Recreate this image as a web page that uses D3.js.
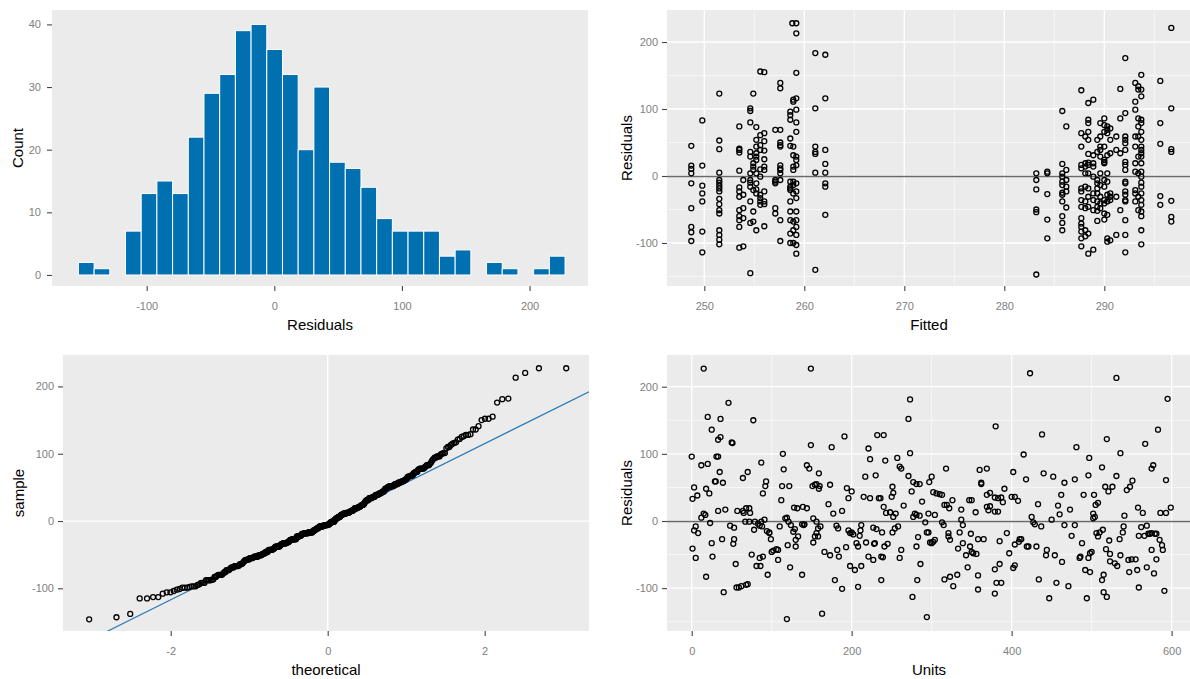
<!DOCTYPE html>
<html>
<head>
<meta charset="utf-8">
<script src="https://cdn.jsdelivr.net/npm/d3@7"></script>
<style>
  body { margin: 0; background: #fff; }
  text { font-family: "Liberation Sans", Arial, sans-serif; }
</style>
</head>
<body>
<svg id="chart" width="1190" height="679"></svg>
<script>
// ---- data ----

// histogram of residuals
var histStart = -153.5;
var histBinWidth = 12.3;
var histCounts = [2, 1, 0, 7, 13, 15, 13, 22, 29, 32, 39, 40, 36, 32, 20, 30, 18, 17, 14, 9, 7, 7, 7, 3, 4, 0, 2, 1, 0, 1, 3];
var histXTicks = [-100, 0, 100, 200];
var histYTicks = [0, 10, 20, 30, 40];

// fitted vs residuals: [fitted value, residuals in that column]
var fittedColumns = [
  [248.7, [45, 15.5, 10.5, 4, -11, -48, -76, -84, -97]],
  [249.8, [83, 15.5, -14.5, -26, -38, -83, -114]],
  [251.5, [123, 53, 40, 5, -6, -10, -14.5, -18.5, -23, -34, -42, -51, -56, -81, -88, -95, -102]],
  [253.5, [74, 41, 39, 35, 8, -17, -23, -31, -51, -60, -66, -76, -107]],
  [253.9, [-6, -28, -48, -63, -105]],
  [254.6, [101, 97, 80, 36, 29, 4, -6, -10, -16, -38, -70, -145]],
  [254.9, [123, 19, 14, 9, -21, -53, -68]],
  [255.2, [73, 54, 44, 34, 29, 24, 4, -11, -20, -26, -81]],
  [255.6, [156, 61, 46, 39, 10, -1, -28, -33, -38, -43]],
  [256.0, [155, 64, 52, 38, 25, 14, 9, -23, -38, -42, -75]],
  [257.1, [69, -6, -8.5, -11, -48, -56]],
  [257.6, [139, 131, 69, 50, 46, 44, 16, 11.5, 9, 4, -6, -66, -97]],
  [258.6, [96, 91, 84, 56, 45, -8.5, -16, -18.5, -21, -38, -53, -66, -86, -100]],
  [258.8, [228]],
  [258.9, [114, 111, 44, 31, 14, 9, -8.5, -13.5, -26, -68, -81, -100]],
  [259.2, [228, 213, 154, 116, 99, 80, 66, 29, 24, 16, -11, -23, -33, -53, -66, -76, -88, -103, -116]],
  [261.1, [183.5, 101, 44, 36, 33, 5, -140]],
  [262.1, [181, 116, 39, 18, 5, -11, -16, -58]],
  [283.2, [4, -6, -20, -50, -54, -147]],
  [284.3, [6.5, 4, -27, -65, -93]],
  [285.8, [97, 18, 4, -1, -8.5, -13.5, -25, -28, -38, -60, -70, -81]],
  [286.2, [74, 9, -6, -16, -23, -47]],
  [287.7, [128, 64, 44, 16.5, 11.5, -18.5, -23, -36, -46, -63, -71, -76, -83, -93, -105]],
  [288.1, [59, 19, 14, 4, -16, -38, -48, -81, -90]],
  [288.4, [109, 84, 79, 66, 54, 33, 20, 16.5, 4, -18.5, -31, -46, -86, -116]],
  [288.9, [114, 31, 19, 14, -1, -26, -36, -51, -110]],
  [289.3, [54, 36, -6, -11, -18.5, -26, -38, -46, -52, -67]],
  [289.6, [79, 59, 44, 39, 29, 4, -13.5, -31, -41, -48]],
  [290.0, [86, 76, 66, 44, 24, 19, 21, -6, -16, -36, -41, -56, -65]],
  [290.3, [74, 69, 64, 31, 4, -8.5, -28, -38, -58, -93, -98]],
  [290.6, [71, 54, 34, -26, -31, -36, -96]],
  [291.2, [59, 39, -31, -88]],
  [291.6, [130, 86, 34, -51]],
  [292.1, [176, 94, 59, 54, 49, 39, 21, 16.5, 9, -8.5, -11, -23, -28, -36, -38, -66, -88, -114]],
  [293.1, [139, 111, 99, 59, 44, 19, 6.5, -21, -26, -38]],
  [293.4, [134, 129, 86, 74, 59, 29, 4, -31, -51]],
  [293.7, [151, 129, 119, 84, 79, 66, 54, 44, 39, 34, 29, 19, 6.5, -1, -10, -16, -26, -36, -43, -53, -60, -81, -102]],
  [295.6, [142, 79, 48, -30, -43]],
  [296.7, [221, 101, 40, 36, -37, -61, -68]]
];
var fittedXTicks = [250, 260, 270, 280, 290];
var fittedXMinor = [255, 265, 275, 285, 295];

// units vs residuals: [units, residual]
var unitsPoints = [
  [15,227],[46,176],[20,155],[36,152],[77,150],[25,136],[36,125],[33,121],[50,117],[51,116],
  [0,96],[31,96],[33,96],[12,83],[20,85],[87,87],[35,73],[70,73],[64,64],[30,59],
  [29,59],[39,57],[3,50],[18,48],[1,33],[7,38],[22,41],[93,59],[92,52],[89,41],
  [33,15],[42,17],[15,11],[17,9],[12,5],[23,-3],[57,15],[64,15],[65,12],[68,19],
  [72,19],[73,12],[67,-1],[72,-1],[79,-1],[83,-4],[87,-1],[91,2],[48,-7],[53,-10],
  [3,-14],[5,-8],[8,-18],[78,-13],[85,-7],[88,-8],[94,-15],[97,-18],[1,-41],[5,-55],
  [25,-33],[38,-27],[53,-27],[52,-34],[26,-53],[18,-83],[40,-106],[55,-64],[56,-99],[59,-99],
  [62,-97],[68,-95],[70,-94],[75,-50],[81,-67],[86,-67],[85,-55],[89,-53],[95,-80],[97,-17],
  [99,-27],[100,-46],[102,-44],[106,-42],[108,-43],[108,-58],[114,100],[115,77],[113,52],[112,31],
  [122,52],[110,-8],[117,4],[119,5],[121,-1],[124,-6],[129,-12],[127,-16],[119,-146],[123,-69],
  [120,-36],[130,-28],[133,-23],[130,-38],[128,20],[132,19],[139,21],[144,19],[141,-5],[140,-6],
  [138,-5],[138,-80],[149,227],[149,113],[144,83],[147,78],[159,71],[151,52],[154,54],[156,55],
  [160,52],[159,48],[152,4],[156,-1],[158,-11],[161,-8],[156,-18],[154,-23],[152,-32],[158,-23],
  [163,-138],[166,-46],[171,25],[177,11],[173,-51],[181,-7],[183,-11],[175,110],[173,54],[179,-88],
  [182,-43],[184,-53],[188,-101],[188,15],[191,126],[193,-39],[194,49],[196,34],[196,-14],[200,44],
  [198,-18],[200,-17],[202,-20],[198,-67],[204,-73],[206,-33],[208,-38],[210,-22],[211,-14],[212,-6],
  [208,-98],[212,-67],[215,36],[217,66],[223,34],[221,108],[223,92],[230,68],[232,128],[240,128],
  [236,34],[234,34],[242,90],[240,21],[243,12],[218,-32],[221,-53],[227,-58],[228,-34],[229,-33],
  [231,-12],[227,-10],[237,-53],[239,-54],[241,-38],[245,-34],[237,-88],[238,-17],
  [248,13],[252,6],[255,11],[251,51],[252,42],[250,36],[257,94],[260,81],[262,78],[265,23],
  [254,-11],[251,-17],[258,-8],[262,-43],[260,-55],[271,152],[273,181],[273,101],[271,67],[275,44],
  [277,58],[281,55],[285,55],[277,6],[281,9],[279,11],[285,8],[288,29],[283,-24],[281,-38],
  [286,-64],[282,-88],[276,-113],[292,-2],[294,-17],[296,11],[298,-32],[296,-17],[300,-33],[302,-31],
  [304,-28],[294,-143],[297,58],[300,66],[302,43],[306,41],[310,40],[313,39],[304,9],[313,-2],
  [318,78],[316,24],[319,24],[322,19],[326,31],[315,-6],[321,-23],[323,-28],[321,-18],[316,-87],
  [323,-83],[327,-97],[332,-80],[337,17],[337,2],[335,-17],[333,-41],[339,-6],[339,-33],[343,-51],
  [345,-69],[347,31],[350,31],[355,13],[349,-19],[348,-38],[352,-48],[356,-49],[350,-46],[358,-27],
  [365,-27],[358,-81],[358,-102],[360,76],[369,78],[362,57],[362,55],[369,39],[373,42],[379,35],
  [383,34],[387,35],[391,48],[389,28],[383,14],[379,14],[371,16],[373,22],[369,21],[380,141],
  [379,-72],[381,-92],[387,-92],[379,-108],[385,-64],[385,-30],[394,-18],[397,-48],[402,-70],[404,-66],
  [402,73],[404,36],[400,36],[408,30],[410,-27],[412,-27],[404,-35],[409,-31],[415,99],[418,62],
  [419,-38],[421,-38],[423,220],[425,6],[427,-2],[429,-5],[433,25],[437,-8],[431,-38],[434,-87],
  [438,129],[440,71],[443,-51],[444,-43],[447,-115],[450,2],[452,66],[454,-51],[456,-92],[458,23],
  [460,10],[462,39],[463,-61],[466,57],[466,-6],[471,-97],[473,17],[475,-22],[479,62],[481,110],
  [479,-6],[485,-55],[486,-53],[488,-33],[490,39],[492,-73],[494,-115],[496,-55],[498,-76],[498,-48],
  [500,-46],[496,68],[497,94],[502,4],[502,11],[504,6],[503,39],[505,24],[508,27],[506,-18],
  [508,-23],[510,-17],[514,-13],[513,-88],[515,-80],[515,-106],[519,-113],[518,-42],[522,-29],[523,-49],
  [513,80],[519,122],[517,51],[521,44],[526,51],[523,-60],[529,-63],[532,-67],[536,-51],[535,-27],
  [539,-17],[540,-8],[531,213],[531,67],[536,101],[541,8],[546,-58],[547,-76],[550,-57],[555,-57],
  [557,-73],[559,-99],[544,46],[548,51],[551,60],[558,20],[562,-9],[564,12],[569,-7],[559,-22],
  [566,-22],[571,-19],[573,-19],[575,-18],[579,-19],[581,-19],[569,-69],[578,-78],[575,-43],[581,-57],
  [567,115],[575,78],[577,83],[583,136],[585,-28],[589,-43],[588,-36],[591,-104],[586,12],[593,12],
  [599,20],[593,61],[595,182]
];
var unitsXTicks = [0, 200, 400, 600];
var unitsXMinor = [100, 300, 500];

var resTicks = [-100, 0, 100, 200];
var resMinor = [-150, -50, 50, 150];
var qqXTicks = [-2, 0, 2];
var qqLineIntercept = -1;
var qqLineSlope = 58;

// ---- drawing ----
var svg = d3.select("#chart");
var panelFill = "#EBEBEB";
var font = "'Liberation Sans', Arial, sans-serif";

function makePanel(box, xDomain, yDomain) {
  var x = d3.scaleLinear().domain(xDomain).range([box.x0, box.x1]);
  var y = d3.scaleLinear().domain(yDomain).range([box.y1, box.y0]);
  var g = svg.append("g");
  g.append("rect")
    .attr("x", box.x0).attr("y", box.y0)
    .attr("width", box.x1 - box.x0).attr("height", box.y1 - box.y0)
    .attr("fill", panelFill);
  return { g: g, x: x, y: y, box: box };
}

function gridLines(p, xs, ys, w) {
  p.g.selectAll(null).data(xs).enter().append("line")
    .attr("x1", d => p.x(d)).attr("x2", d => p.x(d))
    .attr("y1", p.box.y0).attr("y2", p.box.y1)
    .attr("stroke", "#fff").attr("stroke-width", w);
  p.g.selectAll(null).data(ys).enter().append("line")
    .attr("x1", p.box.x0).attr("x2", p.box.x1)
    .attr("y1", d => p.y(d)).attr("y2", d => p.y(d))
    .attr("stroke", "#fff").attr("stroke-width", w);
}

function axes(p, xTicks, yTicks, yPad) {
  var ax = svg.append("g").attr("transform", "translate(0," + p.box.y1 + ")")
    .call(d3.axisBottom(p.x).tickValues(xTicks).tickSize(5).tickPadding(11).tickFormat(d => String(d)));
  var ay = svg.append("g").attr("transform", "translate(" + p.box.x0 + ",0)")
    .call(d3.axisLeft(p.y).tickValues(yTicks).tickSize(5).tickPadding(yPad).tickFormat(d => String(d)));
  [ax, ay].forEach(function (a) {
    a.select(".domain").remove();
    a.selectAll(".tick line").attr("stroke", "#444").attr("stroke-width", 1.1);
    a.selectAll(".tick text").attr("fill", "#808080").attr("font-size", "11px").attr("font-family", font);
  });
}

function title(txt, x, y, rotate) {
  var t = svg.append("text")
    .attr("text-anchor", "middle")
    .attr("font-size", "15px")
    .attr("font-family", font)
    .attr("fill", "#000")
    .text(txt);
  if (rotate) t.attr("transform", "translate(" + x + "," + y + ") rotate(-90)");
  else t.attr("x", x).attr("y", y);
}

function circles(p, pts) {
  p.g.selectAll(null).data(pts).enter().append("circle")
    .attr("cx", d => p.x(d[0])).attr("cy", d => p.y(d[1]))
    .attr("r", 2.5)
    .attr("fill", "none").attr("stroke", "#000").attr("stroke-width", 1.3);
}

function zeroLine(p) {
  var yy = Math.round(p.y(0)) + 0.5;
  p.g.append("line")
    .attr("x1", p.box.x0).attr("x2", p.box.x1)
    .attr("y1", yy).attr("y2", yy)
    .attr("stroke", "#6a6a6a").attr("stroke-width", 1.3);
}

// inverse normal CDF (Acklam) for qq theoretical quantiles
function qnorm(p) {
  var a = [-3.969683028665376e+01, 2.209460984245205e+02, -2.759285104469687e+02, 1.383577518672690e+02, -3.066479806614716e+01, 2.506628277459239e+00];
  var b = [-5.447609879822406e+01, 1.615858368580409e+02, -1.556989798598866e+02, 6.680131188771972e+01, -1.328068155288572e+01];
  var c = [-7.784894002430293e-03, -3.223964580411365e-01, -2.400758277161838e+00, -2.549732539343734e+00, 4.374664141464968e+00, 2.938163982698783e+00];
  var d = [7.784695709041462e-03, 3.224671290700398e-01, 2.445134137142996e+00, 3.754408661907416e+00];
  var q, r;
  if (p < 0.02425) {
    q = Math.sqrt(-2 * Math.log(p));
    return (((((c[0]*q+c[1])*q+c[2])*q+c[3])*q+c[4])*q+c[5]) / ((((d[0]*q+d[1])*q+d[2])*q+d[3])*q+1);
  }
  if (p > 1 - 0.02425) {
    q = Math.sqrt(-2 * Math.log(1 - p));
    return -(((((c[0]*q+c[1])*q+c[2])*q+c[3])*q+c[4])*q+c[5]) / ((((d[0]*q+d[1])*q+d[2])*q+d[3])*q+1);
  }
  q = p - 0.5; r = q * q;
  return (((((a[0]*r+a[1])*r+a[2])*r+a[3])*r+a[4])*r+a[5])*q / (((((b[0]*r+b[1])*r+b[2])*r+b[3])*r+b[4])*r+1);
}

// 1. histogram
var bins = histCounts.map((c, i) => ({ x0: histStart + i * histBinWidth, x1: histStart + (i + 1) * histBinWidth, count: c }))
  .filter(b => b.count > 0);
var p1 = makePanel({ x0: 52, x1: 588, y0: 10, y1: 286 }, [-174.2, 245.8], [-1.76, 42.3]);
p1.g.selectAll(null).data(bins).enter().append("rect")
  .attr("x", b => p1.x(b.x0))
  .attr("width", b => p1.x(b.x1) - p1.x(b.x0))
  .attr("y", b => p1.y(b.count))
  .attr("height", b => p1.y(0) - p1.y(b.count))
  .attr("fill", "#0070b0").attr("stroke", "#fff").attr("stroke-width", 1);
axes(p1, histXTicks, histYTicks, 6);
title("Residuals", 320, 330);
title("Count", 23, 148, true);

// 2. fitted vs residuals
var fittedPoints = [];
fittedColumns.forEach(function (col) {
  col[1].forEach(function (r) { fittedPoints.push([col[0], r]); });
});
var p2 = makePanel({ x0: 667, x1: 1190, y0: 10, y1: 286 }, [246.27, 298.57], [-164.2, 247.8]);
gridLines(p2, fittedXMinor, resMinor, 0.6);
gridLines(p2, fittedXTicks, resTicks, 1.3);
zeroLine(p2);
circles(p2, fittedPoints);
axes(p2, fittedXTicks, resTicks, 4);
title("Fitted", 929, 330);
title("Residuals", 632, 148, true);

// 3. normal qq plot of residuals
var sample = unitsPoints.map(d => d[1]).sort(d3.ascending);
var n = sample.length;
var qqPoints = sample.map((s, i) => [qnorm((i + 0.5) / n), s]);
var p3 = makePanel({ x0: 63, x1: 589, y0: 355, y1: 631 }, [-3.372, 3.329], [-163.4, 246.7]);
gridLines(p3, [0], [0], 1.3);
svg.append("clipPath").attr("id", "qqclip").append("rect")
  .attr("x", 63).attr("y", 355).attr("width", 526).attr("height", 276);
var qqDomain = p3.x.domain();
p3.g.append("line")
  .attr("clip-path", "url(#qqclip)")
  .attr("x1", p3.x(qqDomain[0])).attr("y1", p3.y(qqLineIntercept + qqLineSlope * qqDomain[0]))
  .attr("x2", p3.x(qqDomain[1])).attr("y2", p3.y(qqLineIntercept + qqLineSlope * qqDomain[1]))
  .attr("stroke", "#2b7bb5").attr("stroke-width", 1.2);
circles(p3, qqPoints);
axes(p3, qqXTicks, resTicks, 4);
title("theoretical", 326, 675);
title("sample", 24, 493, true);

// 4. units vs residuals
var p4 = makePanel({ x0: 667, x1: 1190, y0: 355, y1: 631 }, [-30.9, 623], [-163.8, 247.2]);
gridLines(p4, unitsXMinor, resMinor, 0.6);
gridLines(p4, unitsXTicks, resTicks, 1.3);
zeroLine(p4);
circles(p4, unitsPoints);
axes(p4, unitsXTicks, resTicks, 4);
title("Units", 929, 675);
title("Residuals", 632, 493, true);
</script>
</body>
</html>
